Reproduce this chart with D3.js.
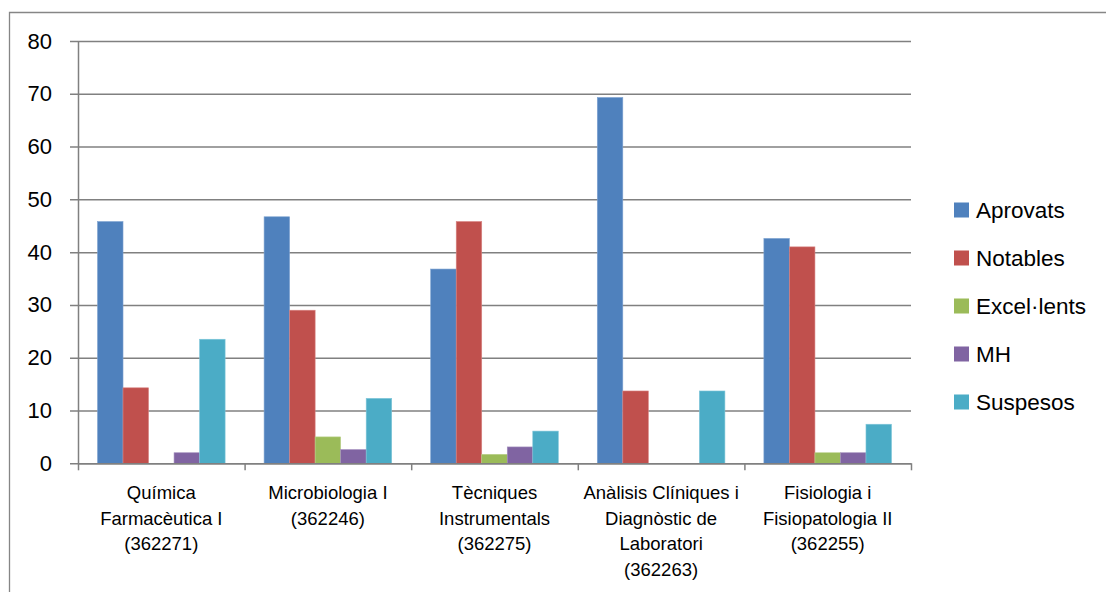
<!DOCTYPE html>
<html>
<head>
<meta charset="utf-8">
<script src="https://cdn.jsdelivr.net/npm/d3@7"></script>
<style>
  body { margin: 0; background: #fff; }
  svg { display: block; font-family: "Liberation Sans", Arial, sans-serif; }
</style>
</head>
<body>
<div id="chart"></div>
<script>
var categories = [
  'Química Farmacèutica I (362271)',
  'Microbiologia I (362246)',
  'Tècniques Instrumentals (362275)',
  'Anàlisis Clíniques i Diagnòstic de Laboratori (362263)',
  'Fisiologia i Fisiopatologia II (362255)'
]
// how each label wraps under its group
var categoryLines = [
  ['Química', 'Farmacèutica I', '(362271)'],
  ['Microbiologia I', '(362246)'],
  ['Tècniques', 'Instrumentals', '(362275)'],
  ['Anàlisis Clíniques i', 'Diagnòstic de', 'Laboratori', '(362263)'],
  ['Fisiologia i', 'Fisiopatologia II', '(362255)']
]
var seriesNames = ['Aprovats', 'Notables', 'Excel·lents', 'MH', 'Suspesos']
var aprovats   = [45.8, 46.7, 36.8, 69.3, 42.6]
var notables   = [14.3, 29.0, 45.8, 13.7, 41.0]
var excellents = [0, 5.0, 1.7, 0, 2.0]
var mh         = [2.0, 2.6, 3.1, 0, 2.0]
var suspesos   = [23.5, 12.3, 6.1, 13.7, 7.4]
var yTicks = [0, 10, 20, 30, 40, 50, 60, 70, 80]

var seriesValues = [aprovats, notables, excellents, mh, suspesos]
var colors = ['#4F81BD', '#C0504D', '#9BBB59', '#8064A2', '#4BACC6']
var borders = ['#7FA3D1', '#D88482', '#B9D08A', '#A38FBE', '#7FC6D9']

var width = 1106, height = 592
var plot = {left: 78, right: 911, top: 41, bottom: 463.3}

var svg = d3.select('#chart').append('svg')
  .attr('width', width)
  .attr('height', height)

// outer chart frame (only top and left edges are visible)
svg.append('path')
  .attr('d', 'M9.5,' + height + 'V12.5H' + width)
  .attr('fill', 'none')
  .attr('stroke', '#868686')
  .attr('stroke-width', 1.3)

var x0 = d3.scaleBand()
  .domain(categories)
  .range([plot.left, plot.right])
  .paddingInner(0.234)
  .paddingOuter(0.117)

var x1 = d3.scaleBand()
  .domain(seriesNames)
  .range([0, x0.bandwidth()])

var y = d3.scaleLinear()
  .domain([0, 80])
  .range([plot.bottom, plot.top])

// gridlines + y axis
var yAxis = d3.axisLeft(y)
  .tickValues(yTicks)
  .tickSize(-(plot.right - plot.left))
  .tickPadding(26)
  .tickSizeOuter(0)

var gy = svg.append('g')
  .attr('transform', 'translate(' + plot.left + ',0)')
  .call(yAxis)
gy.select('.domain').attr('stroke', '#808080').attr('stroke-width', 1.5)
gy.selectAll('.tick line')
  .attr('stroke', '#808080')
  .attr('stroke-width', 1.5)
  .attr('x1', -8)
gy.selectAll('.tick text')
  .attr('font-size', 22)
  .attr('font-family', '"Liberation Sans", Arial, sans-serif')
  .attr('fill', '#000')

// bars
var groups = svg.append('g').selectAll('g')
  .data(categories)
  .join('g')
  .attr('transform', function(d) { return 'translate(' + x0(d) + ',0)' })

groups.selectAll('rect')
  .data(function(d, i) {
    return seriesNames.map(function(s, j) {
      return {series: s, value: seriesValues[j][i], idx: j}
    })
  })
  .join('rect')
  .attr('x', function(d) { return x1(d.series) })
  .attr('width', x1.bandwidth())
  .attr('y', function(d) { return y(d.value) })
  .attr('height', function(d) { return y(0) - y(d.value) })
  .attr('fill', function(d) { return colors[d.idx] })
  .attr('stroke', function(d) { return borders[d.idx] })
  .attr('stroke-width', 0.6)

// x axis
var xAxis = d3.axisBottom(d3.scaleLinear().domain([0, 5]).range([plot.left, plot.right]))
  .tickValues([0, 1, 2, 3, 4, 5])
  .tickSize(7)
  .tickFormat('')
  .tickSizeOuter(0)

var gx = svg.append('g')
  .attr('transform', 'translate(0,' + plot.bottom + ')')
  .call(xAxis)
gx.selectAll('.domain, .tick line').attr('stroke', '#808080').attr('stroke-width', 1.5)

// category labels
var labels = svg.append('g').selectAll('text')
  .data(categories)
  .join('text')
  .attr('text-anchor', 'middle')
  .attr('font-size', 18.5)
  .attr('fill', '#000')
  .attr('transform', function(d) { return 'translate(' + (x0(d) + x0.bandwidth() / 2) + ',499)' })

labels.selectAll('tspan')
  .data(function(d, i) { return categoryLines[i] })
  .join('tspan')
  .attr('x', 0)
  .attr('dy', function(d, i) { return i === 0 ? 0 : 25.5 })
  .text(function(d) { return d })

// legend
var legend = svg.append('g').selectAll('g')
  .data(seriesNames)
  .join('g')
  .attr('transform', function(d, i) { return 'translate(954,' + (210 + i * 48) + ')' })

legend.append('rect')
  .attr('x', 0)
  .attr('y', -7.5)
  .attr('width', 15)
  .attr('height', 15)
  .attr('fill', function(d, i) { return colors[i] })

legend.append('text')
  .attr('x', 22)
  .attr('y', 8)
  .attr('font-size', 22.5)
  .attr('fill', '#000')
  .text(function(d) { return d })
</script>
</body>
</html>
